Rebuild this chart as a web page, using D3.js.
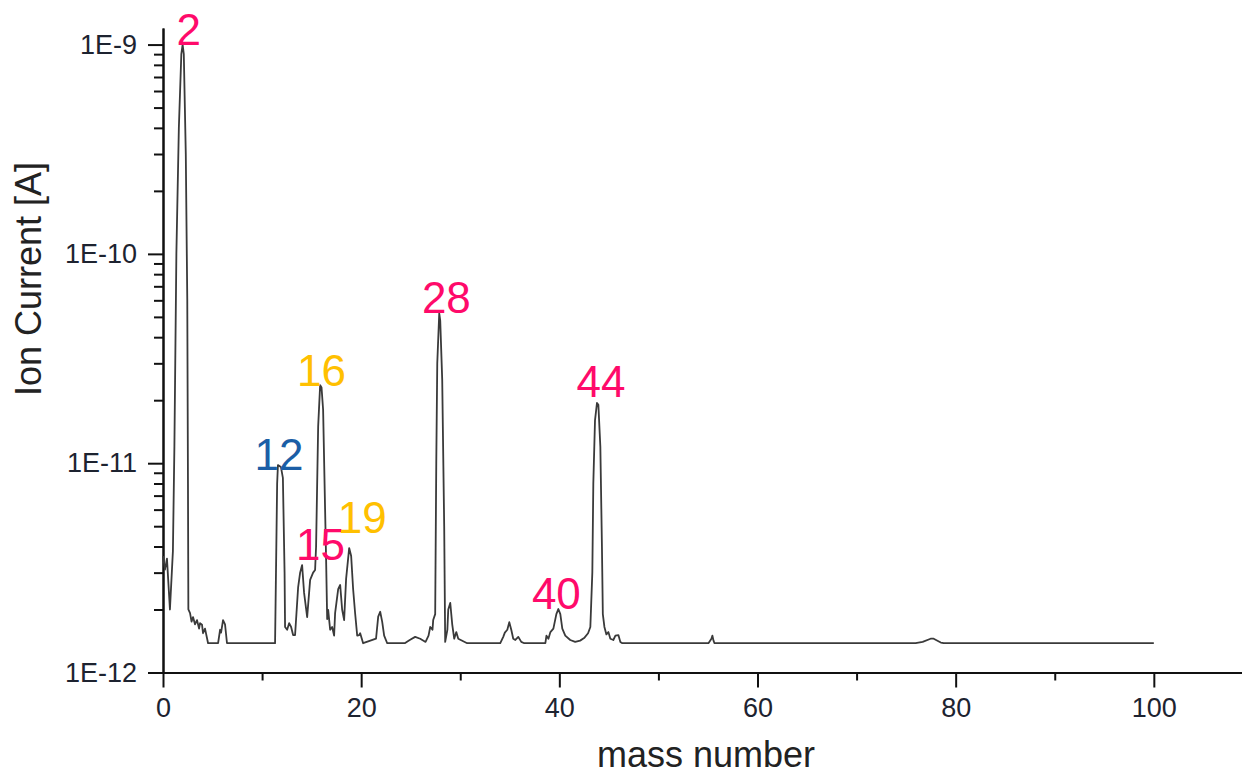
<!DOCTYPE html>
<html>
<head>
<meta charset="utf-8">
<style>
body { margin: 0; background: #fff; }
svg text { font-family: "Liberation Sans", Arial, sans-serif; }
</style>
</head>
<body>
<svg width="1242" height="775"></svg>
<script src="https://cdn.jsdelivr.net/npm/d3@7/dist/d3.min.js"></script>
<script>

// spectrum: [mass number, ion current in A]
var spectrum = [
  [0,3.6e-12],[0.2,3.1e-12],[0.4,3.5e-12],[0.7,2.0e-12],[1.0,3.8e-12],
  [1.15,1.2e-11],[1.35,1.0e-10],[1.6,4.0e-10],[1.85,9.0e-10],[1.98,1.0e-9],
  [2.1,9.0e-10],[2.3,3.0e-10],[2.45,6.0e-11],[2.52,8.0e-12],[2.56,2.0e-12],
  [2.73,1.92e-12],[2.88,1.75e-12],[3.03,1.84e-12],[3.23,1.70e-12],[3.43,1.78e-12],
  [3.64,1.62e-12],[3.74,1.72e-12],[3.94,1.69e-12],[4.04,1.54e-12],[4.24,1.62e-12],
  [4.55,1.38e-12],[5.56,1.38e-12],[5.76,1.60e-12],[5.86,1.55e-12],[6.06,1.78e-12],
  [6.26,1.70e-12],[6.46,1.38e-12],[11.31,1.38e-12],[11.52,8.0e-12],[11.6,9.8e-12],
  [11.9,9.6e-12],[12.1,8.5e-12],[12.27,3.0e-12],[12.32,1.65e-12],[12.53,1.60e-12],
  [12.73,1.72e-12],[12.93,1.65e-12],[13.13,1.51e-12],[13.33,1.51e-12],[13.64,2.56e-12],
  [13.84,3.0e-12],[14.04,3.26e-12],[14.24,2.4e-12],[14.55,1.84e-12],[14.85,2.77e-12],
  [15.15,3.0e-12],[15.35,3.09e-12],[15.45,4.0e-12],[15.66,1.5e-11],[15.86,2.36e-11],
  [16.0,2.3e-11],[16.16,1.8e-11],[16.36,6.0e-12],[16.46,3.5e-12],[16.57,1.8e-12],
  [16.67,1.99e-12],[16.87,1.6e-12],[17.07,1.65e-12],[17.27,1.5e-12],[17.37,1.92e-12],
  [17.68,2.5e-12],[17.88,2.62e-12],[18.08,2.0e-12],[18.28,1.78e-12],[18.48,2.8e-12],
  [18.79,3.93e-12],[18.99,3.6e-12],[19.19,2.5e-12],[19.39,1.92e-12],[19.6,1.5e-12],
  [19.8,1.51e-12],[19.9,1.54e-12],[20.2,1.38e-12],[21.5,1.45e-12],[21.72,1.85e-12],
  [21.92,1.95e-12],[22.12,1.75e-12],[22.32,1.5e-12],[22.63,1.38e-12],[24.4,1.38e-12],
  [24.9,1.43e-12],[25.45,1.48e-12],[25.96,1.45e-12],[26.5,1.40e-12],[26.8,1.5e-12],
  [26.97,1.65e-12],[27.2,1.6e-12],[27.27,1.78e-12],[27.47,1.9e-12],[27.58,1.0e-11],
  [27.68,3.0e-11],[27.88,5.2e-11],[27.98,4.8e-11],[28.18,2.5e-11],[28.38,5.0e-12],
  [28.48,1.4e-12],[28.7,1.6e-12],[28.79,2.0e-12],[28.99,2.15e-12],[29.19,1.7e-12],
  [29.39,1.45e-12],[29.6,1.56e-12],[29.8,1.45e-12],[30.7,1.38e-12],[34.04,1.38e-12],
  [34.34,1.48e-12],[34.5,1.55e-12],[34.75,1.6e-12],[34.95,1.74e-12],[35.15,1.6e-12],
  [35.35,1.45e-12],[35.56,1.43e-12],[35.86,1.48e-12],[36.16,1.40e-12],[36.46,1.38e-12],
  [38.59,1.38e-12],[38.7,1.5e-12],[38.9,1.45e-12],[39.1,1.56e-12],[39.4,1.62e-12],
  [39.7,1.9e-12],[39.9,2.01e-12],[40.1,1.9e-12],[40.3,1.62e-12],[40.6,1.5e-12],
  [41.1,1.43e-12],[41.6,1.40e-12],[42.1,1.42e-12],[42.5,1.46e-12],[42.9,1.54e-12],
  [43.13,1.65e-12],[43.33,3.0e-12],[43.43,8.0e-12],[43.6,1.6e-11],[43.8,1.94e-11],
  [43.94,1.9e-11],[44.14,1.2e-11],[44.3,4.0e-12],[44.39,1.9e-12],[44.55,1.65e-12],
  [44.75,1.52e-12],[44.95,1.56e-12],[45.15,1.45e-12],[45.45,1.43e-12],[45.66,1.5e-12],
  [45.96,1.51e-12],[46.16,1.4e-12],[46.36,1.38e-12],[55.05,1.38e-12],[55.35,1.45e-12],
  [55.45,1.5e-12],[55.56,1.42e-12],[55.66,1.38e-12],[75.96,1.38e-12],[76.67,1.40e-12],
  [77.47,1.45e-12],[77.78,1.45e-12],[78.5,1.39e-12],[78.8,1.38e-12],[100,1.38e-12]
];

// peak labels
var peakLabels  = ["2", "12", "15", "16", "19", "28", "40", "44"];
var peakMass    = [2.6, 11.7, 15.9, 16.0, 20.1, 28.6, 39.7, 44.2];
var peakCurrent = [1.0e-9, 9.3e-12, 3.45e-12, 2.34e-11, 4.64e-12, 5.2e-11, 2.01e-12, 2.07e-11];
var peakColors  = ["#ff0a6a", "#1b5ea6", "#ff0a6a", "#ffc000", "#ffc000", "#ff0a6a", "#ff0a6a", "#ff0a6a"];

// axis ticks
var xMajor = [0, 20, 40, 60, 80, 100];
var xMinor = [10, 30, 50, 70, 90];
var yMajor = [1e-12, 1e-11, 1e-10, 1e-9];

var svg = d3.select("svg");

var x = d3.scaleLinear().domain([0, 109]).range([163, 1243]);
var y = d3.scaleLog().domain([1e-12, 1.2e-9]).range([672.5, 28]);

var yMinor = y.ticks().filter(function(d){ return yMajor.indexOf(d) < 0 && d < 1e-9; });

//y axis, minor and major ticks in their own groups
svg.append("g").attr("transform", "translate(163,0)")
  .call(d3.axisLeft(y).tickValues(yMinor).tickSize(9).tickSizeOuter(0).tickFormat(""));
svg.append("g").attr("transform", "translate(163,0)")
  .call(d3.axisLeft(y).tickValues(yMajor).tickSize(15).tickSizeOuter(0).tickPadding(11)
  .tickFormat(function(d){ return "1E" + Math.round(Math.log10(d)); }));

//x axis
svg.append("g").attr("transform", "translate(0,672.5)")
  .call(d3.axisBottom(x).tickValues(xMinor).tickSize(8).tickSizeOuter(0).tickFormat(""));
svg.append("g").attr("transform", "translate(0,672.5)")
  .call(d3.axisBottom(x).tickValues(xMajor).tickSize(15).tickSizeOuter(0).tickPadding(10));

svg.selectAll(".domain, .tick line").attr("stroke", "#111").attr("stroke-width", 2);
svg.selectAll(".tick text")
  .style("font-size", "27px")
  .attr("fill", "#1d2330");

// spectrum line
var line = d3.line()
  .x(function(d){ return x(d[0]); })
  .y(function(d){ return y(d[1]); });

svg.append("path")
  .datum(spectrum)
  .attr("d", line)
  .attr("fill", "none")
  .attr("stroke", "#3a3a3a")
  .attr("stroke-width", 1.8)
  .attr("stroke-linejoin", "round");

// peak annotations
svg.selectAll(".peak")
  .data(peakLabels)
  .enter().append("text")
  .attr("class", "peak")
  .attr("x", function(d, i){ return x(peakMass[i]); })
  .attr("y", function(d, i){ return y(peakCurrent[i]); })
  .attr("text-anchor", "middle")
  .style("font-size", "44px")
  .attr("fill", function(d, i){ return peakColors[i]; })
  .text(function(d){ return d; });

// axis titles
svg.append("text")
  .attr("x", 706)
  .attr("y", 767)
  .attr("text-anchor", "middle")
  .style("font-size", "36px")
  .attr("fill", "#222")
  .text("mass number");

svg.append("text")
  .attr("transform", "translate(41,279) rotate(-90)")
  .attr("text-anchor", "middle")
  .style("font-size", "36px")
  .attr("fill", "#222")
  .text("Ion Current [A]");
</script>
</body>
</html>
